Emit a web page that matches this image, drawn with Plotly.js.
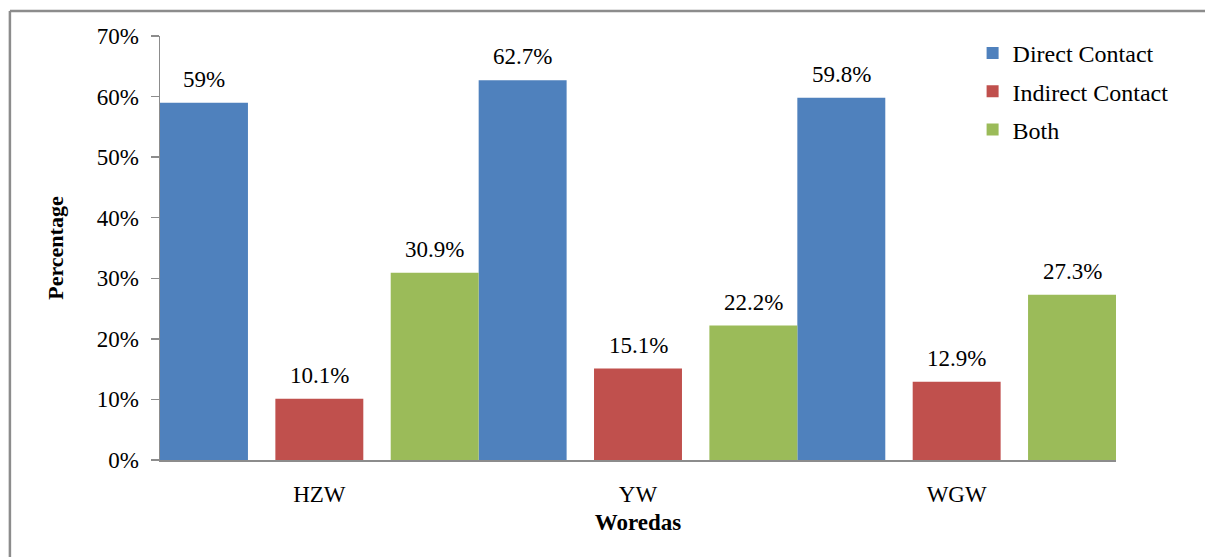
<!DOCTYPE html>
<html>
<head>
<meta charset="utf-8">
<script src="https://cdn.plot.ly/plotly-3.0.1.min.js"></script>
<style>
html,body{margin:0;padding:0;background:#fff;}
#chart{width:1205px;height:557px;}
</style>
</head>
<body>
<div id="chart"></div>
<script>
var categories = ["HZW", "YW", "WGW"];
var seriesNames = ["Direct Contact", "Indirect Contact", "Both"];
var directContact = [59, 62.7, 59.8];
var indirectContact = [10.1, 15.1, 12.9];
var both = [30.9, 22.2, 27.3];
var directLabels = ["59%", "62.7%", "59.8%"];
var indirectLabels = ["10.1%", "15.1%", "12.9%"];
var bothLabels = ["30.9%", "22.2%", "27.3%"];
var yTickVals = [0, 10, 20, 30, 40, 50, 60, 70];
var yTickLabels = ["0%", "10%", "20%", "30%", "40%", "50%", "60%", "70%"];

var colors = ["#4F81BD", "#C0504D", "#9BBB59"];
var seriesValues = [directContact, indirectContact, both];
var seriesLabels = [directLabels, indirectLabels, bothLabels];
var barWidth = 0.276;
var offsets = [-0.5, -0.138, 0.224];
var font = "Liberation Serif";

var traces = [];
var annotations = [];
for (var s = 0; s < 3; s++) {
  traces.push({
    type: "bar",
    name: seriesNames[s],
    x: categories,
    y: seriesValues[s],
    width: barWidth,
    offset: offsets[s],
    marker: {color: colors[s], line: {width: 0}},
    legendgroup: "g" + s,
    hoverinfo: "x+y+name"
  });
  for (var i = 0; i < categories.length; i++) {
    annotations.push({
      xref: "x", yref: "y",
      x: i + offsets[s] + barWidth / 2,
      y: seriesValues[s][i],
      text: seriesLabels[s][i],
      showarrow: false,
      yanchor: "bottom",
      yshift: 9,
      font: {family: font, size: 23, color: "#000"}
    });
  }
}

var layout = {
  width: 1205, height: 557,
  margin: {l: 160, r: 89, t: 36, b: 97},
  paper_bgcolor: "#fff", plot_bgcolor: "#fff",
  barmode: "overlay",
  font: {family: font, size: 23, color: "#000"},
  showlegend: true,
  legend: {
    x: 0.85, y: 1.012, xanchor: "left", yanchor: "top",
    traceorder: "grouped", tracegroupgap: 4,
    font: {family: font, size: 24, color: "#000"},
    bgcolor: "rgba(0,0,0,0)", itemwidth: 30
  },
  xaxis: {
    type: "category",
    range: [-0.5, 2.5],
    showline: true, linecolor: "#8c8c8c", linewidth: 2,
    ticks: "", showgrid: false, zeroline: false,
    ticklabelstandoff: 12,
    tickfont: {family: font, size: 23, color: "#000"},
    title: {text: "<b>Woredas</b>", font: {family: font, size: 23, color: "#000"}, standoff: 8},
    automargin: false, fixedrange: true
  },
  yaxis: {
    range: [0, 70],
    tickmode: "array",
    tickvals: yTickVals,
    ticktext: yTickLabels,
    showline: true, linecolor: "#8c8c8c", linewidth: 1.5,
    ticks: "outside", ticklen: 8, tickcolor: "#8c8c8c", tickwidth: 1.5,
    ticklabelstandoff: 7,
    showgrid: false, zeroline: false,
    tickfont: {family: font, size: 23, color: "#000"},
    title: {text: "<b>Percentage</b>", font: {family: font, size: 22, color: "#000"}, standoff: 27},
    automargin: false, fixedrange: true
  },
  annotations: annotations,
  shapes: [
    {type: "line", xref: "paper", yref: "paper", x0: -0.157, x1: -0.157, y0: -0.3, y1: 1.059,
     line: {color: "#8c8c8c", width: 2.5}},
    {type: "line", xref: "paper", yref: "paper", x0: -0.157, x1: 1.2, y0: 1.059, y1: 1.059,
     line: {color: "#8c8c8c", width: 2.5}}
  ]
};

Plotly.newPlot("chart", traces, layout, {displayModeBar: false, staticPlot: true});
</script>
</body>
</html>
